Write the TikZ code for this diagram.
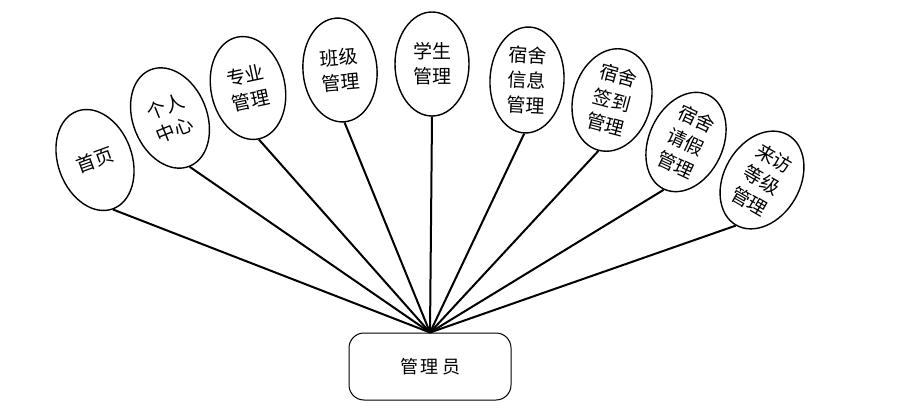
\documentclass[tikz,border=0pt]{standalone}
\usepackage{fontspec}
\newfontfamily\cjk{Noto Sans CJK SC}
\usetikzlibrary{shapes.geometric}
\begin{document}
\begin{tikzpicture}[x=1pt,y=-1pt,
  fn/.style={ellipse,draw,line width=1.4pt,minimum width=74pt,minimum height=104pt,inner sep=0pt,align=center,font=\cjk\fontsize{19}{25}\selectfont},
  hub/.style={draw,rounded corners=15pt,line width=1pt,minimum width=162pt,minimum height=67pt,font=\cjk\fontsize{18}{20}\selectfont},
  link/.style={line width=2pt}]
\useasboundingbox (0,0) rectangle (899,414);
\node[hub] (adm) at (430,366.5) {管\,理\,员};
\node[fn,rotate=20] (e1) at (95,160) {首页};
\node[fn,rotate=22] (e2) at (170,118) {个人\\中心};
\node[fn,rotate=12] (e3) at (248,88) {专业\\管理};
\node[fn,rotate=5] (e4) at (340,70) {班级\\管理};
\node[fn] (e5) at (432,64) {学生\\管理};
\node[fn,rotate=-3,minimum height=106pt] (e6) at (527,80) {宿舍\\信息\\管理};
\node[fn,rotate=-15,minimum width=78pt] (e7) at (612,100) {宿舍\\签到\\管理};
\node[fn,rotate=-25] (e8) at (686,142) {宿舍\\请假\\管理};
\node[fn,rotate=-30,minimum width=76pt] (e9) at (762,180) {来访\\等级\\管理};
\foreach \i in {1,...,9} \draw[link] (adm.north) -- (e\i.south);
\end{tikzpicture}
\end{document}
